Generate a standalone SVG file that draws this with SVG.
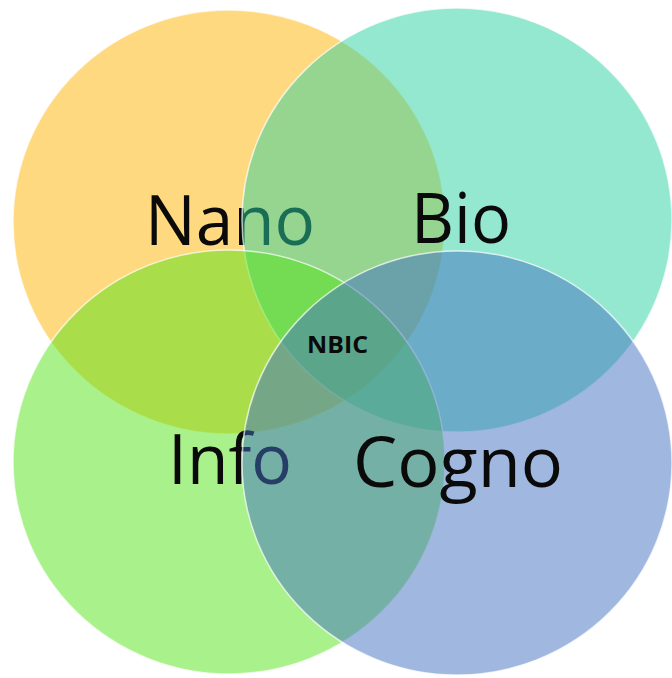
<svg xmlns="http://www.w3.org/2000/svg" width="672" height="678" viewBox="0 0 672 678">
  <style>
    .c { fill-opacity: 0.5; stroke: #ffffff; stroke-opacity: 0.7; stroke-width: 1.5; }
    .big { font-family: "Open Sans", "Liberation Sans", sans-serif; font-size: 70px; fill: #0a0a0a; }
    .small { font-family: "Open Sans", "Liberation Sans", sans-serif; font-size: 23px; font-weight: bold; fill: #0a0a0a; }
  </style>
  <rect width="672" height="678" fill="#ffffff"/>
  <g id="nano">
    <ellipse class="c" cx="229" cy="222" rx="216" ry="212" fill="#FFB300"/>
    <text class="big" x="145" y="245" textLength="170" lengthAdjust="spacingAndGlyphs">Nano</text>
  </g>
  <g id="bio">
    <ellipse class="c" cx="457" cy="220" rx="215" ry="212" fill="#2BD1A1"/>
    <text class="big" x="411" y="243" textLength="100" lengthAdjust="spacingAndGlyphs">Bio</text>
  </g>
  <g id="info">
    <ellipse class="c" cx="229" cy="462" rx="216" ry="212" fill="#53E315"/>
    <text class="big" x="168" y="484" textLength="124" lengthAdjust="spacingAndGlyphs">Info</text>
  </g>
  <g id="cogno">
    <ellipse class="c" cx="457" cy="463" rx="215" ry="212" fill="#416FC1"/>
    <text class="big" x="353" y="487" textLength="210" lengthAdjust="spacingAndGlyphs">Cogno</text>
  </g>
  <g id="nbic">
    <text class="small" x="307" y="353" textLength="61" lengthAdjust="spacingAndGlyphs">NBIC</text>
  </g>
  <g id="connectors"></g>
</svg>
